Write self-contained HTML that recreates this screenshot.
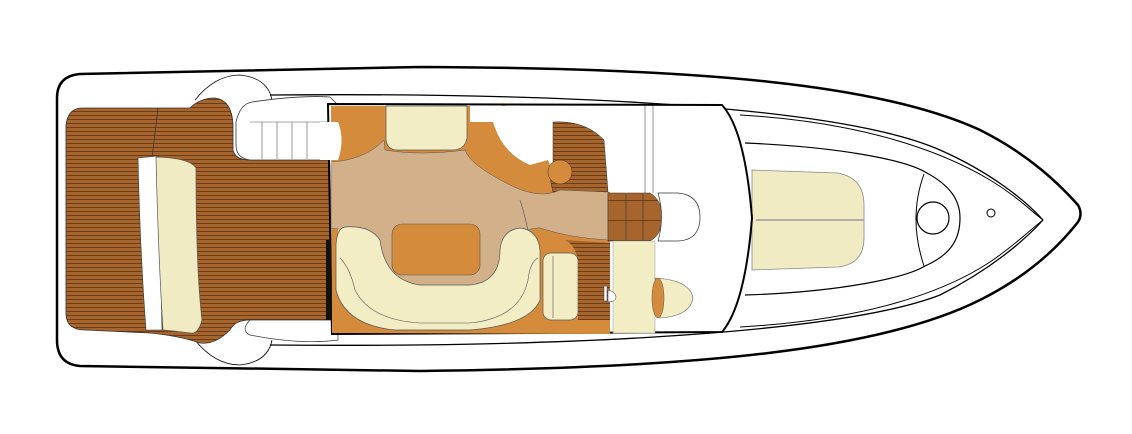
<!DOCTYPE html>
<html><head><meta charset="utf-8"><style>html,body{margin:0;padding:0;background:#fff}svg{display:block}</style></head>
<body>
<svg width="1132" height="434" viewBox="0 0 1132 434" xmlns="http://www.w3.org/2000/svg">
<defs>
<pattern id="teak" width="20" height="4" patternUnits="userSpaceOnUse">
<rect width="20" height="4" fill="#a5652c"/>
<rect y="3" width="20" height="1" fill="#6e3d18"/>
</pattern>
<pattern id="teakv" width="4" height="20" patternUnits="userSpaceOnUse">
<rect width="4" height="20" fill="#a5652c"/>
<rect y="0" width="4" height="1" fill="#6e3d18"/>
</pattern>
</defs>
<rect width="1132" height="434" fill="#fff"/>
<!-- hull -->
<path d="M80,74 L420,67 C700,68 880,84 980,130 C1030,155 1060,185 1078,205 Q1083,214 1078,222 C1060,245 1030,275 980,300 C880,350 700,368 420,371 L80,366 Q57,364 57,340 L57,98 Q57,76 80,74 Z" fill="#fff" stroke="#000" stroke-width="2.5"/>
<!-- deck lines -->
<path d="M270,95 C600,92 850,110 940,150 C990,172 1025,200 1043,220" fill="none" stroke="#000" stroke-width="1.3"/>
<path d="M740,115 C860,122 940,150 990,180 C1015,195 1030,210 1043,220" fill="none" stroke="#000" stroke-width="1"/>
<path d="M270,345 C600,348 850,330 940,295 C990,270 1025,240 1043,220" fill="none" stroke="#000" stroke-width="1.3"/>
<path d="M740,327 C860,320 940,295 990,262 C1015,245 1030,230 1043,220" fill="none" stroke="#000" stroke-width="1"/>
<path d="M745,143 C840,147 905,160 925,172 C950,185 960,200 960,218 C960,240 950,255 925,266 C905,278 840,292 745,295" fill="none" stroke="#000" stroke-width="1.2"/>
<path d="M924,174 Q908,218 924,266" fill="none" stroke="#000" stroke-width="1"/>
<circle cx="933" cy="218" r="16" fill="none" stroke="#000" stroke-width="1.2"/>
<circle cx="991" cy="213" r="4" fill="none" stroke="#000" stroke-width="1"/>
<!-- sunpad -->
<path d="M752,170 L838,173 Q864,178 864,205 L864,238 Q864,264 838,267 L752,270 Z" fill="#f1ebc4" stroke="#888" stroke-width="0.8"/>
<line x1="756" y1="220" x2="864" y2="220" stroke="#999" stroke-width="1.5"/>
<!-- side step curves aft -->
<path d="M195,100 Q215,75 240,75 Q268,78 272,100" fill="none" stroke="#000" stroke-width="0.8"/>
<path d="M195,340 Q215,365 240,365 Q268,362 272,340" fill="none" stroke="#000" stroke-width="0.8"/>
<!-- teak aft deck -->
<path d="M82,108 L190,108 Q200,98 215,98 Q232,100 233,125 L233,150 Q235,160 250,160 L330,160 L330,320 L250,320 Q235,320 230,330 Q215,345 200,343 Q180,336 150,333 L85,330 Q67,330 66,315 L66,125 Q68,108 82,108 Z" fill="url(#teak)" stroke="#333" stroke-width="0.8"/>
<path d="M158,108 L152,158" stroke="#333" stroke-width="0.7"/>
<!-- aft sofa -->
<path d="M138,158 L158,156 L162,330 L146,330 Q140,250 138,158 Z" fill="#fff" stroke="#333" stroke-width="0.6"/>
<path d="M156,157 Q190,158 196,168 Q196,270 202,320 Q198,335 190,333 Q175,331 163,330 Q158,250 156,157 Z" fill="#f1ebc4" stroke="#555" stroke-width="0.7"/>
<!-- steps -->
<path d="M252,102 Q300,95 330,97 L338,105 L338,160 L250,160 Q236,158 236,145 L236,122 Q240,104 252,102 Z" fill="#fff" stroke="#333" stroke-width="0.8"/>
<g stroke="#555" stroke-width="0.6"><line x1="250" y1="122" x2="340" y2="122"/><line x1="262" y1="122" x2="262" y2="159"/><line x1="277" y1="122" x2="277" y2="159"/><line x1="292" y1="122" x2="292" y2="159"/><line x1="307" y1="122" x2="307" y2="159"/><line x1="322" y1="122" x2="322" y2="159"/></g>
<path d="M250,320 L338,320 L338,340 Q300,345 250,335 Q240,330 250,320 Z" fill="#fff" stroke="#333" stroke-width="0.7"/>
<!-- cabin -->
<path d="M328,104 L722,105 Q745,130 752,218 Q745,305 722,332 L332,334 Z" fill="#fff" stroke="#000" stroke-width="2"/>
<rect x="326" y="240" width="5" height="80" fill="#111"/>
<!-- orange floor -->
<path d="M331,106 L500,106 L500,105 L610,122 L610,334 L332,333 Z" fill="#d48c3c"/>
<rect x="470" y="106" width="140" height="16" fill="#fff"/>
<path d="M490,106 Q495,150 530,165 L548,160 L560,190 L610,192 L610,106 Z" fill="#fff"/>
<!-- teak block -->
<path d="M553,122 Q585,120 604,140 L608,192 L553,192 Q548,175 553,165 Z" fill="url(#teak)" stroke="#333" stroke-width="0.5"/>
<circle cx="560" cy="172" r="12" fill="#d48c3c" stroke="#333" stroke-width="0.5"/>
<!-- tan area -->
<path d="M331,162 Q365,160 384,140 L385,150 Q420,156 465,150 Q470,165 510,185 Q540,200 560,190 L608,192 L608,240 Q570,238 540,228 Q520,228 515,245 L460,290 L400,290 L345,230 L331,228 Z" fill="#d2b08a" stroke="#555" stroke-width="0.5"/>
<path d="M331,162 L400,160 L520,200 L515,300 L345,300 Z" fill="#d2b08a"/>
<path d="M520,200 Q525,215 530,240" fill="none" stroke="#555" stroke-width="0.6"/>
<!-- left white semicircle -->
<path d="M320,122 L338,122 Q345,140 338,160 L320,160 Z" fill="#fff"/>
<!-- top cream seat -->
<path d="M386,106 L467,106 L467,138 Q465,150 452,150 L398,150 Q386,150 386,138 Z" fill="#f2edc4" stroke="#555" stroke-width="0.7"/>
<!-- table -->
<rect x="392" y="224" width="88" height="51" rx="10" fill="#d48c3c" stroke="#555" stroke-width="0.6"/>
<!-- U sofa -->
<path d="M345,227 Q370,225 380,240 Q385,280 420,285 L470,285 Q500,282 500,250 Q502,230 520,228 Q538,230 540,250 L540,300 Q530,325 470,330 L395,330 Q345,325 336,290 L336,245 Q337,228 345,227 Z" fill="#f2edc4" stroke="#555" stroke-width="0.7"/>
<path d="M340,258 Q350,268 355,290 Q370,320 420,323 L470,323 Q520,318 528,280 Q530,262 538,258" fill="none" stroke="#555" stroke-width="0.6"/>
<!-- small chair -->
<rect x="543" y="253" width="35" height="67" rx="8" fill="#f2edc4" stroke="#555" stroke-width="0.7"/>
<line x1="553" y1="256" x2="553" y2="318" stroke="#555" stroke-width="0.6"/>
<!-- teak near chair -->
<path d="M565,240 L610,243 L610,320 L578,320 L578,260 Q575,245 565,240 Z" fill="url(#teak)"/>
<!-- corridor teak -->
<path d="M608,193 L650,193 Q662,200 662,217 Q662,235 650,241 L608,241 Z" fill="url(#teakv)" stroke="#333" stroke-width="0.5"/>
<line x1="626" y1="194" x2="626" y2="240" stroke="#333" stroke-width="0.6"/>
<line x1="643" y1="194" x2="643" y2="240" stroke="#333" stroke-width="0.6"/>
<path d="M658,193 L678,193 Q700,195 700,217 Q700,240 678,241 L658,241 Q665,217 658,193 Z" fill="#fff" stroke="#333" stroke-width="0.7"/>
<line x1="645" y1="106" x2="645" y2="193" stroke="#666" stroke-width="0.7"/>
<line x1="653" y1="106" x2="653" y2="193" stroke="#666" stroke-width="0.7"/>
<!-- head -->
<rect x="613" y="241" width="42" height="92" fill="#f2edc4" stroke="#999" stroke-width="0.5"/>
<path d="M655,278 Q690,280 693,298 Q690,316 660,318 Z" fill="#f2edc4" stroke="#555" stroke-width="0.6"/>
<ellipse cx="658" cy="298" rx="6" ry="20" fill="#d48c3c" stroke="#555" stroke-width="0.5"/>
<rect x="604" y="286" width="3" height="15" fill="#fff" stroke="#333" stroke-width="0.5"/>
<path d="M608,290 Q616,292 616,297 Q616,302 608,302 Z" fill="#fff" stroke="#333" stroke-width="0.5"/>
</svg>
</body></html>
